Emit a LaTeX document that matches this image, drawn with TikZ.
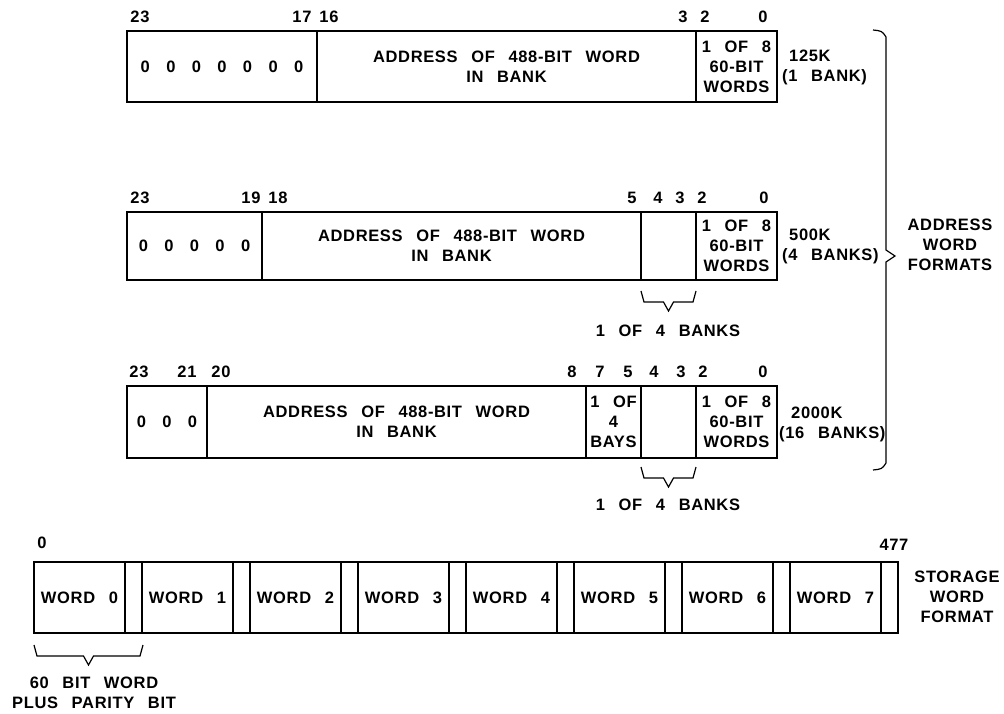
\documentclass[tikz,border=0pt]{standalone}
\usepackage{fontspec}
\setmainfont{Liberation Sans}[LetterSpace=4,WordSpace=2.6]
\usetikzlibrary{decorations.pathreplacing}

\tikzset{
  field/.style={draw, line width=1.5pt, anchor=north west, inner sep=0pt, outer sep=0pt, align=center, minimum height=70pt},
  bitno/.style={inner sep=0pt},
  side/.style={inner sep=0pt, align=center},
}
% angular brace under a bit field: left x, right x, top y
\newcommand\bankbrace[3]{%
  \draw[line width=1.2pt] (#1,#3) -- ({#1+3},{#3+11}) -- ({(#1+#2)/2-5},{#3+11}) -- ({(#1+#2)/2},{#3+20}) -- ({(#1+#2)/2+5},{#3+11}) -- ({#2-3},{#3+11}) -- (#2,#3);}

\begin{document}
\begin{tikzpicture}[x=1pt, y=-1pt, font=\fontsize{16.5}{20}\selectfont\bfseries]
\useasboundingbox (0,0) rectangle (1004,714);

% 125K
\node[field, minimum width=190pt, minimum height=71pt] (z1) at (127,31) {0\, 0\, 0\, 0\, 0\, 0\, 0};
\node[field, minimum width=379pt, minimum height=71pt] (a1) at (z1.north east) {ADDRESS OF 488-BIT WORD\\IN BANK};
\node[field, minimum width=81pt, minimum height=71pt] (w1) at (a1.north east) {1 OF 8\\60-BIT\\WORDS};
\foreach \lbl/\xx [count=\i] in {23/140, 17/302, 16/329, 3/683, 2/705, 0/763}
  \node[bitno] (ta\i) at (\xx,17) {\lbl};
\node[side, anchor=west, align=left] (k1) at (782,67) {\hspace*{7pt}125K\\(1 BANK)};

% 500K
\node[field, minimum width=135pt, minimum height=68pt] (z2) at (127,212) {0\, 0\, 0\, 0\, 0};
\node[field, minimum width=379pt, minimum height=68pt] (a2) at (z2.north east) {ADDRESS OF 488-BIT WORD\\IN BANK};
\node[field, minimum width=55pt, minimum height=68pt] (b2) at (a2.north east) {};
\node[field, minimum width=81pt, minimum height=68pt] (w2) at (b2.north east) {1 OF 8\\60-BIT\\WORDS};
\foreach \lbl/\xx [count=\i] in {23/140, 19/251, 18/278, 5/632, 4/658, 3/680, 2/702, 0/764}
  \node[bitno] (tb\i) at (\xx,198) {\lbl};
\node[side, anchor=west, align=left] (k2) at (782,246) {\hspace*{7pt}500K\\(4 BANKS)};
\bankbrace{641}{696}{291}
\node[side] (bk2) at (668,331) {1 OF 4 BANKS};

% 2000K
\node[field, minimum width=80pt, minimum height=72pt] (z3) at (127,386) {0\, 0\, 0};
\node[field, minimum width=379pt, minimum height=72pt] (a3) at (z3.north east) {ADDRESS OF 488-BIT WORD\\IN BANK};
\node[field, minimum width=55pt, minimum height=72pt] (y3) at (a3.north east) {1 OF\\4\\BAYS};
\node[field, minimum width=55pt, minimum height=72pt] (b3) at (y3.north east) {};
\node[field, minimum width=81pt, minimum height=72pt] (w3) at (b3.north east) {1 OF 8\\60-BIT\\WORDS};
\foreach \lbl/\xx [count=\i] in {23/139, 21/187, 20/221, 8/572, 7/600, 5/628, 4/654, 3/681, 2/703, 0/763}
  \node[bitno] (tc\i) at (\xx,372) {\lbl};
\node[side, anchor=west, align=left] (k3) at (779,424) {\hspace*{12pt}2000K\\(16 BANKS)};
\bankbrace{641}{696}{467}
\node[side] (bk3) at (668,505) {1 OF 4 BANKS};

\draw[line width=1.2pt] (873,30) .. controls (882,31) .. (886,37) -- (886,250) -- (895,256) -- (886,262) -- (886,463) .. controls (882,469) .. (873,470);
\node[side] (awf) at (950,245) {ADDRESS\\WORD\\FORMATS};

% storage word
\foreach \i in {0,...,7} {
  \node[field, minimum width=91pt, minimum height=71pt] (w\i) at ({34+108*\i},562) {WORD \i};
  \node[field, minimum width=17pt, minimum height=71pt] (p\i) at (w\i.north east) {};
}
\node[bitno] (s0) at (42,543) {0};
\node[bitno] (s477) at (894,545) {477};
\bankbrace{34}{143}{645}
\node[side] (par) at (94,693) {60 BIT WORD\\PLUS PARITY BIT};
\node[side] (swf) at (957,597) {STORAGE\\WORD\\FORMAT};
\end{tikzpicture}
\end{document}
